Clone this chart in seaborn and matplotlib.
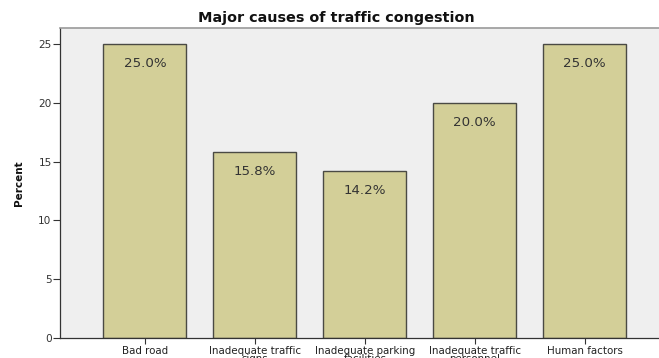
import matplotlib
matplotlib.use("Agg")
import matplotlib.pyplot as plt
import seaborn as sns
import pandas as pd

categories = ["Bad road", "Inadequate traffic\nsigns", "Inadequate parking\nfacilities",
              "Inadequate traffic\npersonnel", "Human factors"]
percents = [25.0, 15.8, 14.2, 20.0, 25.0]
y_ticks = [0, 5, 10, 15, 20, 25]

df = pd.DataFrame({"cause": categories, "percent": percents})

sns.set_theme(style="white")
plt.rcParams["font.family"] = ["DejaVu Sans"]

W, H = 659, 358
fig = plt.figure(figsize=(W / 100, H / 100), dpi=100)
fig.patch.set_facecolor("white")
# plot frame in pixel coordinates: left 60, top 28, bottom 338, open to the right edge
ax = fig.add_axes([60 / W, (H - 338) / H, (W - 60) / W, (338 - 28) / H])
ax.set_facecolor("#efefef")

sns.barplot(data=df, x="cause", y="percent", ax=ax, color="#d3cf98",
            width=0.755, edgecolor="#4a4a44", linewidth=1.0, saturation=1)

for i, v in enumerate(percents):
    ax.text(i, v - 1.65, f"{v:.1f}%", ha="center", va="center",
            fontsize=9.6, color="#333333")

ax.set_xlim(-0.773, 4.677)
ax.set_ylim(0, 26.35)
ax.set_yticks(y_ticks)
ax.set_yticklabels([str(t) for t in y_ticks], fontsize=7.6, color="#333333")
ax.tick_params(axis="y", left=True, direction="out", length=5, width=0.8,
               color="#333333", pad=1)
ax.tick_params(axis="x", bottom=True, direction="out", length=4, width=0.8,
               color="#333333", pad=1.5, labelsize=7.4, labelcolor="#222222")
for lbl in ax.get_xticklabels():
    lbl.set_linespacing(0.85)

ax.set_xlabel("")
ax.set_ylabel("Percent", fontsize=7.5, fontweight="bold", color="#111111", labelpad=10)

ax.spines["right"].set_visible(False)
ax.spines["top"].set_color("#9a9a9a")
ax.spines["top"].set_linewidth(1.2)
ax.spines["left"].set_color("#333333")
ax.spines["left"].set_linewidth(0.9)
ax.spines["bottom"].set_color("#333333")
ax.spines["bottom"].set_linewidth(0.9)

fig.text(336 / W, 1 - 18 / H, "Major causes of traffic congestion", ha="center",
         va="center", fontsize=10.4, fontweight="bold", color="#111111")

fig.savefig("out.png", dpi=100)
